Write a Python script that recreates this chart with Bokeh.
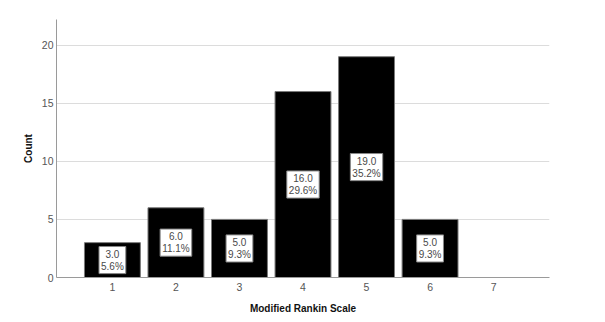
from bokeh.plotting import figure
from bokeh.models import ColumnDataSource, Range1d, FixedTicker
from bokeh.core.properties import value
from bokeh.embed import file_html
from bokeh.resources import INLINE

categories = [1, 2, 3, 4, 5, 6, 7]
counts = [3, 6, 5, 16, 19, 5, 0]
percents = [5.6, 11.1, 9.3, 29.6, 35.2, 9.3, 0.0]
y_ticks = [0, 5, 10, 15, 20]

FONT = "Liberation Sans"

p = figure(width=605, height=322, output_backend="svg", toolbar_location=None,
           x_range=Range1d(0.12, 7.88), y_range=Range1d(0, 22.2),
           min_border_left=56, min_border_right=56, min_border_top=19,
           min_border_bottom=45)
p.outline_line_color = None
p.background_fill_color = "white"
p.border_fill_color = "white"

src = ColumnDataSource(dict(x=categories, top=counts))
p.vbar(x="x", top="top", width=0.88, bottom=0, source=src,
       fill_color="black", line_color="#7a7a7a", line_width=1)

lab_x, lab_y, lab_t = [], [], []
for c, n, pc in zip(categories, counts, percents):
    if n > 0:
        lab_x.append(c)
        lab_y.append(n / 2)
        lab_t.append(f"{n:.1f}\n{pc:.1f}%")
lsrc = ColumnDataSource(dict(x=lab_x, y=lab_y, t=lab_t))
p.text(x="x", y="y", text="t", source=lsrc, text_align="center",
       text_baseline="middle", text_font=value(FONT), text_font_size="10px",
       text_color="#4a4a4a", text_line_height=1.1,
       background_fill_color="white", border_line_color="#888888",
       border_line_width=1, padding=2)

p.xaxis.ticker = FixedTicker(ticks=categories)
p.yaxis.ticker = FixedTicker(ticks=y_ticks)
p.xgrid.grid_line_color = None
p.ygrid.grid_line_color = "#dcdcdc"
p.ygrid.grid_line_width = 1

for ax in (p.xaxis[0], p.yaxis[0]):
    ax.axis_line_color = "#9a9a9a"
    ax.major_tick_line_color = None
    ax.minor_tick_line_color = None
    ax.major_tick_out = 0
    ax.major_tick_in = 0
    ax.minor_tick_out = 0
    ax.major_label_text_font = FONT
    ax.major_label_text_font_size = "10.5px"
    ax.major_label_text_color = "#555555"
    ax.axis_label_text_font = FONT
    ax.axis_label_text_font_size = "10px"
    ax.axis_label_text_font_style = "bold"
    ax.axis_label_text_color = "#111111"

p.xaxis.axis_label = "Modified Rankin Scale"
p.yaxis.axis_label = "Count"
p.xaxis.major_label_standoff = 5
p.xaxis.axis_label_standoff = 9
p.yaxis.major_label_standoff = 3
p.yaxis.axis_label_standoff = 5

open("out.html", "w").write(file_html(p, INLINE))
